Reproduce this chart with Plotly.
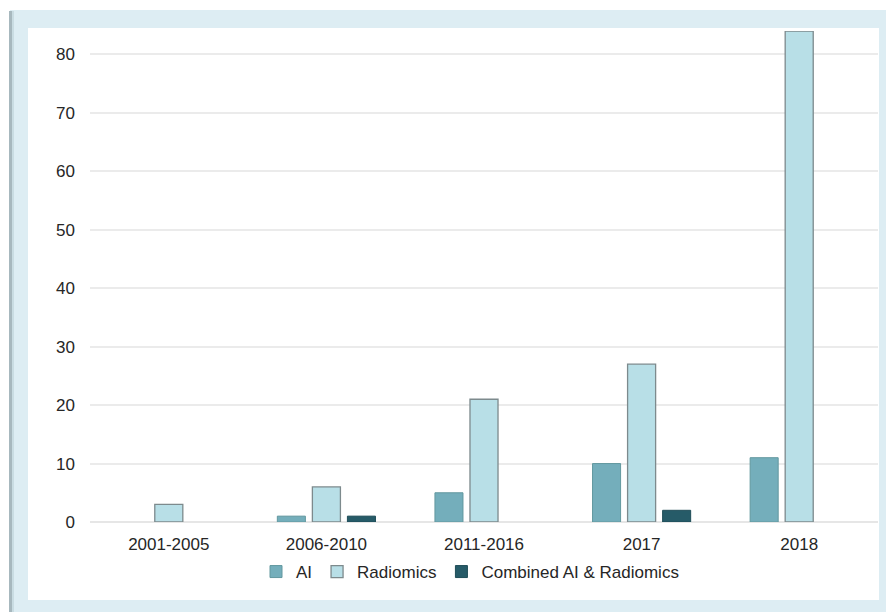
import plotly.graph_objects as go

# Publication counts per period
periods = ["2001-2005", "2006-2010", "2011-2016", "2017", "2018"]
ai_counts = [0, 1, 5, 10, 11]
radiomics_counts = [3, 6, 21, 27, 84]
combined_counts = [0, 1, 0, 2, 0]
y_ticks = [0, 10, 20, 30, 40, 50, 60, 70, 80]

W, H = 886, 612
L, R, T, B = 90, 8, 31, 90
plot_w = W - L - R
plot_h = H - T - B


def px_x(x):
    return (x - L) / plot_w


def px_y(y):
    return (H - B - y) / plot_h


def nz(vals):
    # empty periods get no bar at all
    return [v if v else None for v in vals]


fig = go.Figure()
fig.add_trace(go.Bar(
    name="AI", x=periods, y=nz(ai_counts),
    marker=dict(color="#74aebb", line=dict(color="#62989f", width=1)),
))
fig.add_trace(go.Bar(
    name="Radiomics", x=periods, y=nz(radiomics_counts),
    marker=dict(color="#b8dfe7", line=dict(color="#7d8a8d", width=1.3)),
))
fig.add_trace(go.Bar(
    name="Combined AI & Radiomics", x=periods, y=nz(combined_counts),
    marker=dict(color="#265b68", line=dict(color="#1f4d58", width=1)),
))

# Light blue frame around the white chart panel
shapes = [
    dict(type="rect", xref="paper", yref="paper", layer="below",
         x0=px_x(10), x1=px_x(890), y0=px_y(616), y1=px_y(10),
         fillcolor="#ddedf3", line=dict(width=0)),
    dict(type="rect", xref="paper", yref="paper", layer="below",
         x0=px_x(9), x1=px_x(12), y0=px_y(616), y1=px_y(11),
         fillcolor="#a7b8be", line=dict(width=0)),
    dict(type="rect", xref="paper", yref="paper", layer="below",
         x0=px_x(12), x1=px_x(14), y0=px_y(616), y1=px_y(11),
         fillcolor="#c9dce2", line=dict(width=0)),
    dict(type="rect", xref="paper", yref="paper", layer="below",
         x0=px_x(28), x1=px_x(879), y0=px_y(600), y1=px_y(28),
         fillcolor="#ffffff", line=dict(width=0)),
]

fig.update_layout(
    width=W, height=H,
    margin=dict(l=L, r=R, t=T, b=B, pad=0),
    paper_bgcolor="#ffffff",
    plot_bgcolor="rgba(0,0,0,0)",
    font=dict(family="Liberation Sans, Arial, sans-serif", size=17, color="#262626"),
    barmode="group",
    bargap=0.333,
    bargroupgap=0.2,
    shapes=shapes,
    showlegend=True,
    legend=dict(
        orientation="h", x=px_x(470), xanchor="center",
        y=px_y(572), yanchor="middle",
        font=dict(size=17, color="#262626"),
        itemwidth=30, traceorder="normal",
        bgcolor="rgba(0,0,0,0)",
    ),
    xaxis=dict(
        showgrid=False, showline=False, zeroline=False, ticks="",
        ticklabelstandoff=10, fixedrange=True,
    ),
    yaxis=dict(
        range=[0, 84], tickvals=y_ticks, showgrid=True, gridcolor="#ebebeb",
        gridwidth=1.5, zeroline=True, zerolinecolor="#e6e6e6", zerolinewidth=1.5,
        showline=False, ticks="", ticklabelstandoff=14, fixedrange=True,
    ),
)

fig.write_html("out.html")
